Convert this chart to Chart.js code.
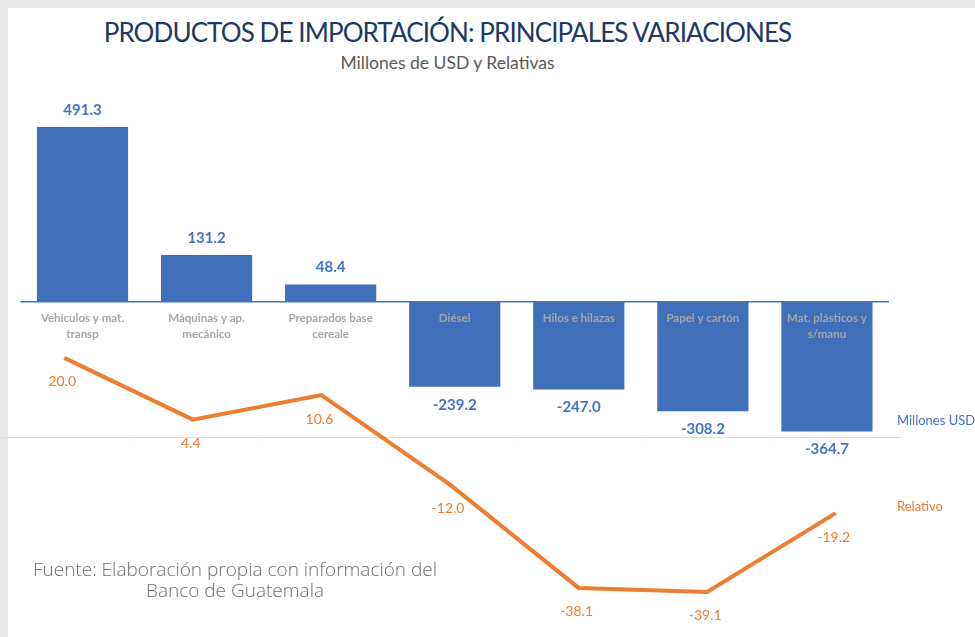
<!DOCTYPE html>
<html>
<head>
<meta charset="utf-8">
<script src="https://cdn.jsdelivr.net/npm/chart.js@4.4.1/dist/chart.umd.min.js"></script>
<style>
  html, body { margin: 0; padding: 0; }
  body { width: 975px; height: 637px; background: #e6e8e7; position: relative; overflow: hidden; font-family: Lato, "Open Sans", sans-serif; }
  #panel { position: absolute; left: 8px; top: 8px; right: 0; bottom: 0; background: #fff; }
  #wrap { position: absolute; left: 0; top: 0; width: 975px; height: 637px; }
  .title { position: absolute; left: 0; width: 895px; text-align: center; }
  #t1 { top: 16px; font-size: 26px; color: #203864; letter-spacing: -0.9px; }
  #t2 { top: 52px; font-size: 17.5px; color: #595959; }
  #src { position: absolute; left: 0; width: 470px; top: 559px; text-align: center; font-family: "Open Sans", sans-serif; font-weight: 300; font-size: 19px; line-height: 21px; color: #6f6f6f; }
</style>
</head>
<body>
<div id="panel"></div>
<div class="title" id="t1">PRODUCTOS DE IMPORTACIÓN: PRINCIPALES VARIACIONES</div>
<div class="title" id="t2">Millones de USD y Relativas</div>
<div id="wrap"><canvas id="chart" width="975" height="637"></canvas></div>
<div id="src">Fuente: Elaboración propia con información del<br>Banco de Guatemala</div>
<script>
// categorías y series
const categorias = [
  ['Vehículos y mat.', 'transp'],
  ['Máquinas y ap.', 'mecánico'],
  ['Preparados base', 'cereale'],
  ['Diésel'],
  ['Hilos e hilazas'],
  ['Papel y cartón'],
  ['Mat. plásticos y', 's/manu']
];
const millonesUSD = [491.3, 131.2, 48.4, -239.2, -247.0, -308.2, -364.7];
const relativo = [20.0, 4.4, 10.6, -12.0, -38.1, -39.1, -19.2];

const AZUL = '#4472c4';
const BARRA = '#3f70b9';
const NARANJA = '#ed7d31';

// ejes, etiquetas y nombres de series
const etiquetas = {
  id: 'etiquetas',
  beforeDatasetsDraw(chart) {
    const ctx = chart.ctx;
    const xb = chart.scales.xb, y = chart.scales.y, y2 = chart.scales.y2, x = chart.scales.x;
    const area = chart.chartArea;
    ctx.save();
    // linea cero barras
    ctx.strokeStyle = AZUL;
    ctx.lineWidth = 1.5;
    ctx.beginPath();
    ctx.moveTo(xb.getPixelForValue(-0.5), y.getPixelForValue(0));
    ctx.lineTo(xb.getPixelForValue(6.5), y.getPixelForValue(0));
    ctx.stroke();
    // linea cero relativo
    const z2 = Math.round(y2.getPixelForValue(0)) + 0.5;
    ctx.strokeStyle = '#dcdcdc';
    ctx.lineWidth = 1;
    ctx.beginPath();
    ctx.moveTo(area.left, z2);
    ctx.lineTo(area.right + 1, z2);
    ctx.stroke();
    ctx.strokeStyle = '#ececec';
    ctx.beginPath();
    for (let i = 1; i < relativo.length; i++) {
      const bx = Math.round((x.getPixelForValue(i - 1) + x.getPixelForValue(i)) / 2) + 0.5;
      ctx.moveTo(bx, z2);
      ctx.lineTo(bx, z2 + 3);
    }
    ctx.stroke();
    ctx.restore();
  },
  afterDatasetsDraw(chart) {
    const ctx = chart.ctx;
    const y = chart.scales.y;
    const bars = chart.getDatasetMeta(0).data;
    const pts = chart.getDatasetMeta(1).data;
    ctx.save();
    ctx.textAlign = 'center';
    ctx.textBaseline = 'middle';
    // nombres de categoria
    ctx.font = 'bold 11.5px Lato';
    ctx.fillStyle = '#a6a6a6';
    bars.forEach((b, i) => {
      categorias[i].forEach((ln, j) => {
        ctx.fillText(ln, b.x, y.getPixelForValue(0) + 17 + j * 16);
      });
    });
    // valores de barras
    ctx.font = 'bold 15px Lato';
    ctx.fillStyle = AZUL;
    bars.forEach((b, i) => {
      const v = millonesUSD[i];
      ctx.fillText(v.toFixed(1), b.x, v >= 0 ? b.y - 17 : b.y + 18);
    });
    // valores relativos
    ctx.font = '14px Lato';
    ctx.fillStyle = NARANJA;
    pts.forEach((p, i) => {
      ctx.fillText(relativo[i].toFixed(1), p.x - 2, p.y + 24);
    });
    // nombres de series
    ctx.textAlign = 'left';
    ctx.font = '13px Lato';
    ctx.fillStyle = AZUL;
    const lb = bars[bars.length - 1];
    ctx.fillText('Millones USD', chart.chartArea.right - 3, lb.y - 11);
    ctx.fillStyle = NARANJA;
    const lp = pts[pts.length - 1];
    ctx.fillText('Relativo', chart.chartArea.right - 3, lp.y - 6);
    ctx.restore();
  }
};

const data = {
  labels: categorias.map(c => c.join(' ')),
  datasets: [
    {
      type: 'bar',
      label: 'Millones USD',
      data: millonesUSD.map((v, i) => ({ x: i, y: v })),
      backgroundColor: BARRA,
      xAxisID: 'xb',
      yAxisID: 'y',
      grouped: false,
      categoryPercentage: 1,
      barPercentage: 0.735,
      order: 2
    },
    {
      type: 'line',
      label: 'Relativo',
      data: relativo,
      borderColor: NARANJA,
      borderWidth: 4,
      pointRadius: 0,
      tension: 0,
      xAxisID: 'x',
      yAxisID: 'y2',
      order: 1
    }
  ]
};

const config = {
  type: 'bar',
  data: data,
  plugins: [etiquetas],
  options: {
    responsive: false,
    animation: false,
    layout: { padding: { left: 0, right: 75, top: 80, bottom: 17 } },
    plugins: { legend: { display: false }, tooltip: { enabled: false } },
    scales: {
      x: { type: 'category', offset: true, display: false },
      xb: {
        type: 'linear', min: -0.665, max: 6.589, offset: false, display: false,
        grid: { offset: false },
        // un tick por categoria para que el ancho de barra salga del espaciado
        afterBuildTicks: (scale) => { scale.ticks = categorias.map((c, i) => ({ value: i })); }
      },
      y: { min: -895.1, max: 623.5, display: false },
      y2: { min: -46.2, max: 90.2, display: false }
    }
  }
};

new Chart(document.getElementById('chart'), config);
</script>
</body>
</html>
